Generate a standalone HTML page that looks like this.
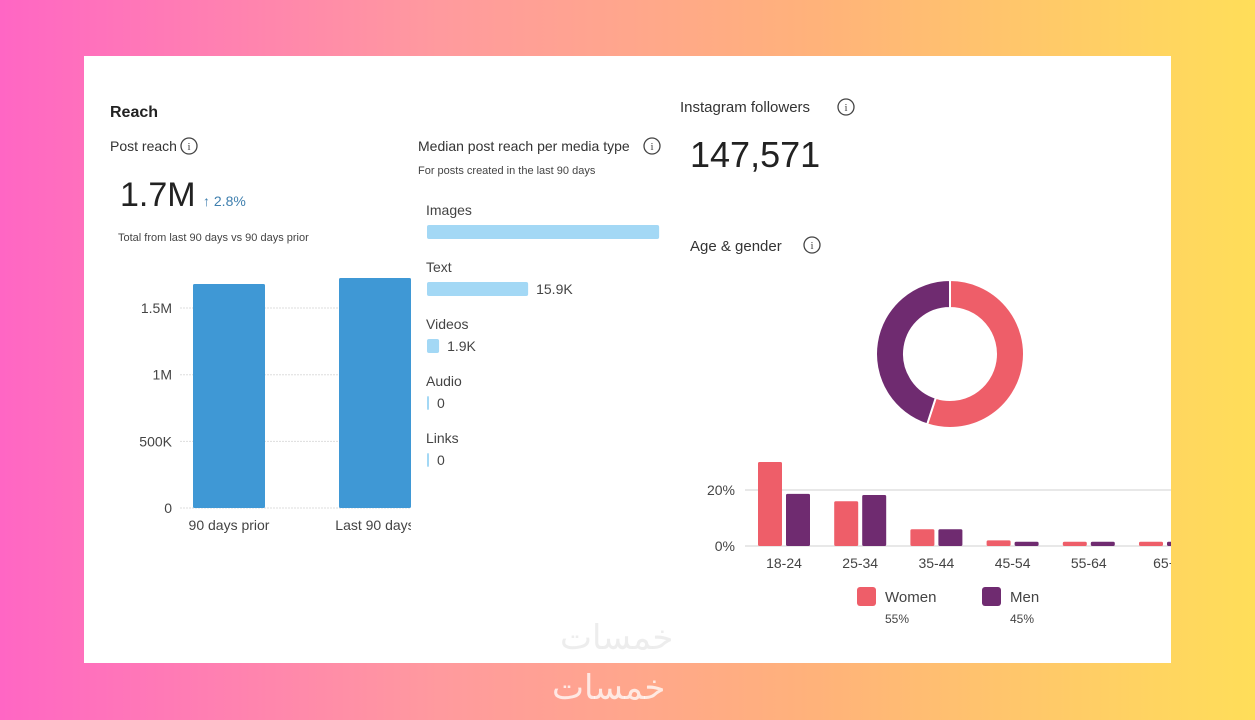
<!DOCTYPE html>
<html><head><meta charset="utf-8">
<style>
html,body{margin:0;padding:0;width:1255px;height:720px;overflow:hidden;}
body{background:linear-gradient(90deg,#ff66c4 0%,#ff9a9e 35%,#ffb27a 65%,#ffde59 100%);font-family:"Liberation Sans","Noto Sans CJK SC",sans-serif;position:relative;}
#card{position:absolute;left:84px;top:56px;width:1087px;height:607px;background:#fff;}
svg{position:absolute;left:0;top:0;}
.wm{position:absolute;color:rgba(255,255,255,0.75);font-family:"Liberation Sans","DejaVu Sans",sans-serif;font-size:34px;}
</style></head>
<body>
<div id="card"></div>
<svg id="chart" width="1255" height="720"></svg>
<div class="wm" style="left:560px;top:618px;color:rgba(235,235,235,0.9)">خمسات</div>
<div class="wm" style="left:552px;top:668px;">خمسات</div>
<script>
const reachCats=["90 days prior","Last 90 days"];
const reachVals=[1.68,1.725];
const reachTicks=[0,0.5,1,1.5];
const reachTickLabels=["0","500K","1M","1.5M"];
const mediaCats=["Images","Text","Videos","Audio","Links"];
const mediaVals=[36.5,15.9,1.9,0,0];
const mediaLabels=["","15.9K","1.9K","0","0"];
const ageCats=["18-24","25-34","35-44","45-54","55-64","65+"];
const womenVals=[30,16,6,2,1.5,1.5];
const menVals=[18.6,18.2,6,1.5,1.5,1.5];
const ageTicks=[0,20];
const genderShare=[55,45];

const NS="http://www.w3.org/2000/svg";
const svg=document.getElementById('chart');
function el(tag,attrs,parent){const e=document.createElementNS(NS,tag);for(const k in attrs)e.setAttribute(k,attrs[k]);(parent||svg).appendChild(e);return e;}
function txt(x,y,s,size,fill,extra){const t=el('text',Object.assign({x:x,y:y,'font-size':size,fill:fill,'font-family':'Liberation Sans, sans-serif'},extra||{}));t.textContent=s;return t;}
function info(cx,cy){const g=el('g',{});
el('circle',{cx:cx,cy:cy,r:8,fill:'none',stroke:'#444','stroke-width':1.3},g);
const t=el('text',{x:cx,y:cy+4,'font-size':11,fill:'#444','text-anchor':'middle','font-family':'Liberation Serif, serif'},g);t.textContent='i';}

// Headers
let t;
t=txt(110,117,"Reach",16,"#222",{'font-weight':'bold'});
t=txt(110,151,"Post reach",14,"#333");
info(189,146);
t=txt(120,206,"1.7M",34,"#222");
t=txt(203,206,"↑ 2.8%",14,"#3f7fae");
t=txt(118,241,"Total from last 90 days vs 90 days prior",11,"#444");

// Reach chart
const y0=508, pxPerM=133.3;
function ry(v){return y0-v*pxPerM;}
const reachX=[229,375], bw=72;
const clip=el('clipPath',{id:'rc'});el('rect',{x:180,y:200,width:231,height:340},clip);
reachTicks.forEach((v,i)=>{
 const l=el('line',{x1:180,x2:411,y1:ry(v),y2:ry(v),stroke:'#ddd','stroke-dasharray':'2,1'});
 
 const tt=txt(172,ry(v)+5,reachTickLabels[i],14,"#444",{'text-anchor':'end'});
 
});
const rg=el('g',{'clip-path':'url(#rc)'});
reachVals.forEach((v,i)=>{
 const r=el('rect',{x:reachX[i]-bw/2,y:ry(v),width:bw,height:v*pxPerM,fill:'#3f98d5',rx:1.5},rg);
 
 const lt=el('text',{x:reachX[i],y:530,'font-size':14,fill:'#444','text-anchor':'middle','font-family':'Liberation Sans, sans-serif'},rg);lt.textContent=reachCats[i];
 
});

// Media type
t=txt(418,151,"Median post reach per media type",14,"#333");
info(652,146);
t=txt(418,174,"For posts created in the last 90 days",11,"#444");
const mx=427, pxPerK=6.36;
mediaCats.forEach((c,i)=>{
 const by=225+i*57;
 const ct=txt(426,by-10,c,14,"#444");
 const w=Math.max(2,mediaVals[i]*pxPerK);
 const r=el('rect',{x:mx,y:by,width:w,height:14,fill:'#a3d8f5',rx:2});
 
 if(mediaLabels[i]){const vt=txt(mx+w+8,by+12,mediaLabels[i],14,"#444");}
});

// Followers
t=txt(680,112,"Instagram followers",15,"#333");
info(846,107);
t=txt(690,167,"147,571",36,"#222");
t=txt(690,251,"Age & gender",15,"#333");
info(812,245);

// Donut
const cx=950, cy=354, R=74, r0=46;
const colors=['#ee5e69','#6f2b70'];
const names=['donut-women','donut-men'];
let ang=0;const tot=genderShare.reduce((a,b)=>a+b,0);
genderShare.forEach((v,i)=>{
 const a0=ang, a1=ang+v/tot*2*Math.PI; ang=a1;
 const p=(a,r)=>[cx+r*Math.sin(a),cy-r*Math.cos(a)];
 const large=(a1-a0)>Math.PI?1:0;
 const [x1,y1]=p(a0,R),[x2,y2]=p(a1,R),[x3,y3]=p(a1,r0),[x4,y4]=p(a0,r0);
 const path=el('path',{d:`M${x1},${y1} A${R},${R} 0 ${large} 1 ${x2},${y2} L${x3},${y3} A${r0},${r0} 0 ${large} 0 ${x4},${y4} Z`,fill:colors[i],stroke:'#fff','stroke-width':2});
 
});

// Age bars
const ay0=546, pxPerPct=2.8;
function ay(v){return ay0-v*pxPerPct;}
const ac=el('clipPath',{id:'ac'});el('rect',{x:740,y:430,width:431,height:150},ac);
ageTicks.forEach(v=>{
 const l=el('line',{x1:745,x2:1171,y1:ay(v),y2:ay(v),stroke:'#e0e0e0','stroke-width':1.5});
 
 const tt=txt(735,ay(v)+5,v+"%",14,"#444",{'text-anchor':'end'});
 
});
const ag=el('g',{'clip-path':'url(#ac)'});
ageCats.forEach((c,i)=>{
 const gx=784+i*76.2;
 const w=el('rect',{x:gx-26,y:ay(womenVals[i]),width:24,height:womenVals[i]*pxPerPct,fill:colors[0],rx:1.5},ag);
 
 const m=el('rect',{x:gx+2,y:ay(menVals[i]),width:24,height:menVals[i]*pxPerPct,fill:colors[1],rx:1.5},ag);
 
 const lt=el('text',{x:gx,y:568,'font-size':14,fill:'#444','text-anchor':'middle','font-family':'Liberation Sans, sans-serif'},ag);lt.textContent=c;
 
});

// Legend
const leg=[["Women",colors[0],857,"55%"],["Men",colors[1],982,"45%"]];
leg.forEach(L=>{
 const g=el('g',{});
 el('rect',{x:L[2],y:587,width:19,height:19,rx:3,fill:L[1]},g);
 const a=el('text',{x:L[2]+28,y:602,'font-size':15,fill:'#444','font-family':'Liberation Sans, sans-serif'},g);a.textContent=L[0];
 const b=el('text',{x:L[2]+28,y:623,'font-size':12,fill:'#444','font-family':'Liberation Sans, sans-serif'},g);b.textContent=L[3];
});
</script>
</body></html>
